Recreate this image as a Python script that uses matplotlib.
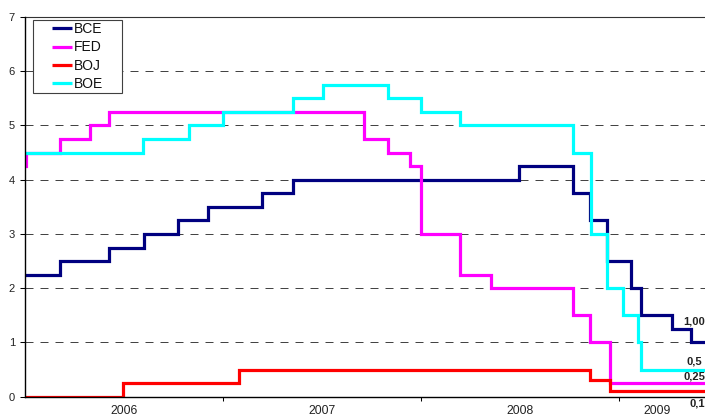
import matplotlib
matplotlib.use("Agg")
import matplotlib.pyplot as plt
import matplotlib.dates as mdates
from matplotlib.lines import Line2D
from matplotlib.legend_handler import HandlerBase

plt.rcParams['font.family'] = ['Liberation Sans', 'DejaVu Sans']

# ---------------- data ----------------
start_date = '2006-01-01'
end_date = '2009-06-08'

bce_dates = ['2006-01-01', '2006-03-07', '2006-06-05', '2006-08-09', '2006-10-11',
             '2006-12-05', '2007-03-14', '2007-05-10', '2008-06-30', '2008-10-08',
             '2008-11-08', '2008-12-10', '2009-01-22', '2009-02-10', '2009-04-08',
             '2009-05-13']
bce_rates = [2.25, 2.50, 2.75, 3.00, 3.25, 3.50, 3.75, 4.00, 4.25, 3.75, 3.25,
             2.50, 2.00, 1.50, 1.25, 1.00]

fed_dates = ['2006-01-01', '2006-01-02', '2006-03-07', '2006-05-01', '2006-06-05',
             '2007-09-18', '2007-11-01', '2007-12-12', '2008-01-01', '2008-03-13',
             '2008-05-10', '2008-10-08', '2008-11-08', '2008-12-14']
fed_rates = [4.25, 4.50, 4.75, 5.00, 5.25, 4.75, 4.50, 4.25, 3.00, 2.25, 2.00,
             1.50, 1.00, 0.25]

boj_dates = ['2006-01-01', '2006-07-01', '2007-01-30', '2008-11-08', '2008-12-15']
boj_rates = [0.0, 0.25, 0.50, 0.30, 0.10]

boe_dates = ['2006-01-01', '2006-08-06', '2006-10-30', '2007-01-01', '2007-05-10',
             '2007-07-04', '2007-11-01', '2008-01-01', '2008-03-13', '2008-10-08',
             '2008-11-09', '2008-12-10', '2009-01-08', '2009-02-05', '2009-02-10']
boe_rates = [4.50, 4.75, 5.00, 5.25, 5.50, 5.75, 5.50, 5.25, 5.00, 4.50, 3.00,
             2.00, 1.50, 1.00, 0.50]

series_names = ['BCE', 'FED', 'BOJ', 'BOE']
series_colors = ['#000080', '#FF00FF', '#FF0000', '#00FFFF']

year_labels = ['2006', '2007', '2008', '2009']
year_label_dates = ['2006-07-02', '2007-07-02', '2008-07-02', '2009-03-12']
year_tick_dates = ['2007-01-01', '2008-01-01', '2009-01-01']

end_labels = ['1,00', '0,5', '0,25', '0,1']
end_label_dates = ['2009-04-29', '2009-05-04', '2009-04-29', '2009-05-11']
end_label_values = [1.38, 0.64, 0.365, -0.12]

# ---------------- figure ----------------
W, H = 705, 418
fig = plt.figure(figsize=(W / 100, H / 100), dpi=100)
y0_px, y7_px, x0_px = 396.7, 17.0, 25.0
ax = fig.add_axes([x0_px / W, (H - y0_px) / H, (W - x0_px) / W, (y0_px - y7_px) / H])

d2n = mdates.datestr2num
xend = d2n(end_date)

all_dates = [bce_dates, fed_dates, boj_dates, boe_dates]
all_rates = [bce_rates, fed_rates, boj_rates, boe_rates]
handles = []
for i, (ds, rs) in enumerate(zip(all_dates, all_rates)):
    x = list(d2n(ds)) + [xend]
    y = list(rs) + [rs[-1]]
    ln, = ax.step(x, y, where='post', color=series_colors[i], lw=2.3,
                  label=series_names[i], zorder=3 + i, solid_joinstyle='miter')
    handles.append(ln)

ax.set_xlim(d2n(start_date), xend)
ax.set_ylim(0, 7)

# grid
ax.set_yticks(range(0, 8))
ax.yaxis.grid(True, color='#444444', linewidth=0.72, linestyle=(0, (8, 7)), zorder=1)
ax.set_axisbelow(True)

# spines
ax.spines['right'].set_visible(False)
ax.spines['top'].set_color('#333333')
ax.spines['top'].set_linewidth(0.8)
for s in ['left', 'bottom']:
    ax.spines[s].set_color('black')
    ax.spines[s].set_linewidth(1.0)
ax.spines['left'].set_zorder(10)
ax.spines['bottom'].set_zorder(10)

ax.tick_params(axis='y', direction='out', length=3.6, width=0.75, pad=3.6,
               labelsize=8, labelcolor='#222222')
ax.set_xticks(d2n(year_tick_dates))
ax.set_xticklabels([])
ax.tick_params(axis='x', which='major', direction='out', length=3, width=0.75)
ax.set_xticks(d2n(year_label_dates), minor=True)
ax.set_xticklabels(year_labels, minor=True)
ax.tick_params(axis='x', which='minor', length=0, pad=6, labelsize=8.7,
               labelcolor='#222222')

# end labels
for t, d, v in zip(end_labels, end_label_dates, end_label_values):
    ax.text(d2n(d), v, t, fontsize=8, fontweight='bold', color='#222222',
            ha='left', va='center', clip_on=False, zorder=20)


class RightLine(HandlerBase):
    def create_artists(self, legend, orig_handle, xdescent, ydescent, width,
                       height, fontsize, trans):
        seg = 14.4
        yy = (height - ydescent) / 2.0
        line = Line2D([width - xdescent - seg, width - xdescent], [yy, yy],
                      color=orig_handle.get_color(), lw=orig_handle.get_linewidth(),
                      solid_capstyle='butt')
        line.set_transform(trans)
        return [line]


leg = fig.legend(handles=handles, labels=series_names, loc='upper left',
                 bbox_to_anchor=(33 / W, 1 - 99 / H, 89 / W, 79 / H), mode='expand',
                 borderaxespad=0, fontsize=10, handlelength=2.65, handletextpad=0.14,
                 borderpad=0.16, labelspacing=0.3, fancybox=False, framealpha=1,
                 edgecolor='#404040', handler_map={Line2D: RightLine()})
leg.get_frame().set_linewidth(0.8)
for t in leg.get_texts():
    t.set_color('#111111')

fig.savefig('out.png', dpi=100)
